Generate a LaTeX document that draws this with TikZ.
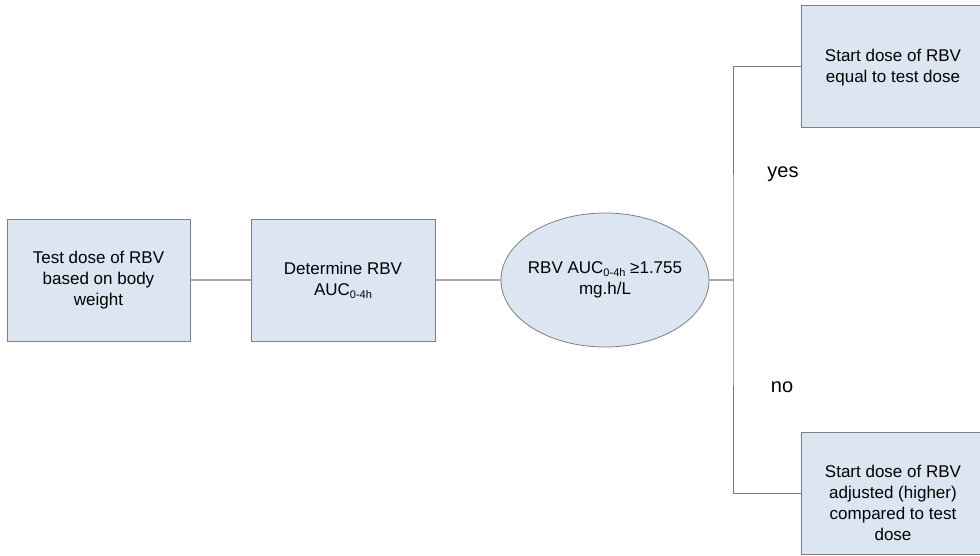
\documentclass[tikz,border=0pt]{standalone}
\usepackage{fontspec}
\setmainfont{Liberation Sans}
\usetikzlibrary{shapes.geometric}
\definecolor{boxfill}{HTML}{DCE6F2}
\definecolor{boxline}{HTML}{7F7F7F}
\definecolor{linkA}{HTML}{A6A6A6}
\definecolor{linkB}{HTML}{7A7A7A}
\newcommand{\subtxt}[1]{\raisebox{-0.35ex}{\fontsize{11}{11}\selectfont #1}}
\tikzset{
  stepbox/.style={draw=boxline, fill=boxfill, line width=1pt, rectangle,
    minimum width=184pt, minimum height=122pt, inner sep=0pt,
    align=center, font=\fontsize{17}{21}\selectfont},
  decision/.style={draw=boxline, fill=boxfill, line width=0.8pt, ellipse,
    minimum width=208pt, minimum height=134pt, inner xsep=-30pt, inner ysep=0pt,
    align=center, font=\fontsize{17}{21}\selectfont},
  plain/.style={inner sep=0pt, align=center, font=\fontsize{17}{21}\selectfont},
  lbl/.style={inner sep=0pt, font=\fontsize{20}{24}\selectfont},
  linkleft/.style={draw=linkA, line width=1.2pt},
  linkright/.style={draw=linkB, line width=1pt},
}
\begin{document}
\begin{tikzpicture}[x=1pt,y=-1pt]
\useasboundingbox (0,0) rectangle (980,555);
\node[stepbox, minimum width=183pt] (test) at (98.5,280) {Test dose of RBV\\based on body\\weight};
\node[stepbox] (determine) at (343,280) {Determine RBV\\AUC\subtxt{0-4h}};
\node[decision] (cond) at (605,280) {RBV AUC\subtxt{0-4h} ≥1.755\\mg.h/L};
\node[stepbox] (yesbox) at (893,66) {};
\node[plain] (yestext) at (893,68) {Start dose of RBV\\equal to test dose};
\node[stepbox] (nobox) at (893,493) {};
\node[plain] (notext) at (893,503) {Start dose of RBV\\adjusted (higher)\\compared to test\\dose};
\coordinate (junction) at (733,280);
\node[lbl] (yeslbl) at (783,174) {yes};
\node[lbl] (nolbl) at (782,387) {no};
\draw[linkleft] (test.east) -- (determine.west);
\draw[linkleft] (determine.east) -- (cond.west);
\draw[linkleft] (cond.east) -- (junction);
\draw[linkright] (yesbox.west) -| (junction) |- (nobox.west);
\end{tikzpicture}
\end{document}
